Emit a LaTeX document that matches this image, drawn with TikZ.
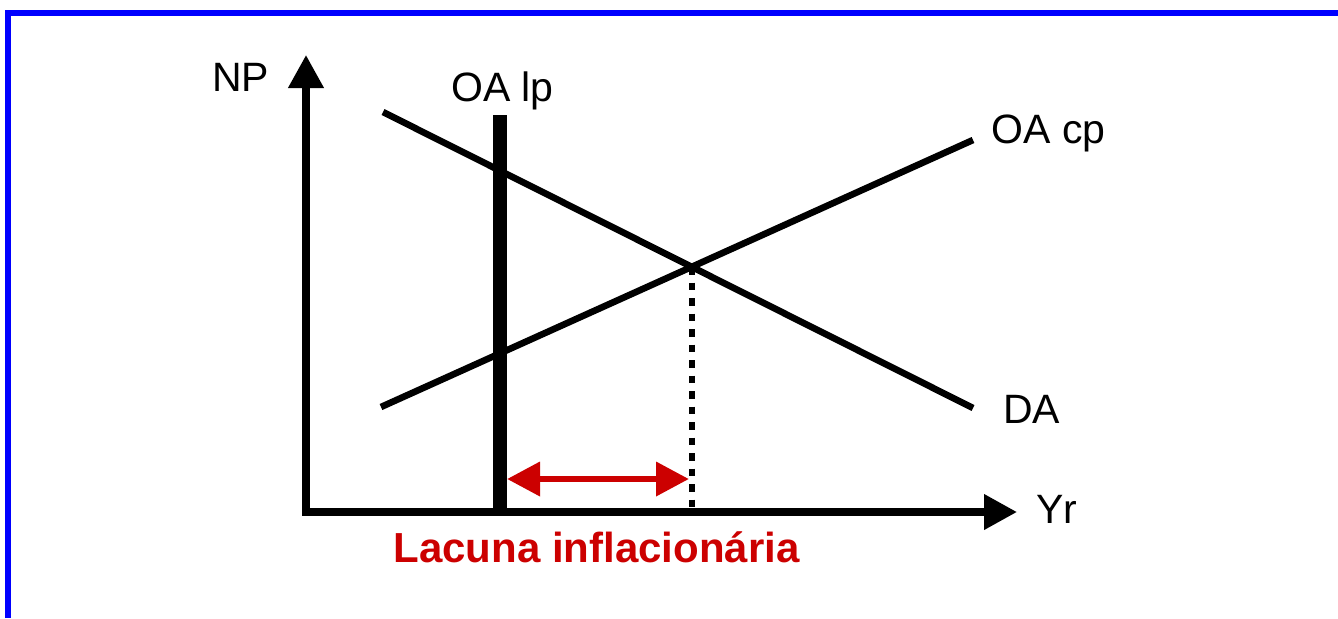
\documentclass[tikz,border=0pt]{standalone}
\usepackage{fontspec}
\setmainfont{Liberation Sans}
\usetikzlibrary{arrows.meta}
\definecolor{bord}{HTML}{0000FF}
\definecolor{lacred}{HTML}{CC0000}
\begin{document}
\begin{tikzpicture}[x=0.5pt,y=-0.5pt,
  lbl/.style={anchor=base,inner sep=0pt,font=\fontsize{20.5}{24}\selectfont},
  curve/.style={line width=3.3pt},
  axis/.style={line width=3.6pt,-{Triangle[length=16.5pt,width=17pt]}},
  gap/.style={lacred,line width=3.4pt,{Triangle[length=16.5pt,width=16.5pt]}-{Triangle[length=16.5pt,width=16.5pt]}}]
\useasboundingbox (0,0) rectangle (1338,618);
\fill[white] (0,0) rectangle (1338,618);
% border
\draw[bord,line width=3pt] (8,618) -- (8,13) -- (1338,13);
% coordinates
\coordinate (corner) at (302,512);
\coordinate (ybot) at (306,515.5);
\coordinate (ytip) at (306,55);
\coordinate (xtip) at (1017,512);
\coordinate (lpT) at (500,115);
\coordinate (lpB) at (500,515);
\coordinate (daS) at (383,112);
\coordinate (daE) at (973,408);
\coordinate (cpS) at (381,407);
\coordinate (cpE) at (973,140);
\coordinate (E) at (692,267);
\coordinate (Eb) at (692,510);
\coordinate (gL) at (507,479);
\coordinate (gR) at (689,479);
% axes
\draw[axis] (ybot) -- (ytip);
\draw[axis] (corner) -- (xtip);
% curves
\draw[curve] (daS) -- (daE);
\draw[curve] (cpS) -- (cpE);
\draw[line width=7.2pt] (lpB) -- (lpT);
\draw[line width=3.2pt,dash pattern=on 3.75pt off 4pt] (E) -- (Eb);
% gap arrow
\draw[gap] (gL) -- (gR);
% labels
\node[lbl] (np) at (240.5,91) {NP};
\node[lbl] (oalp) at (502.5,101.5) {OA lp};
\node[lbl] (oacp) at (1048.5,143) {OA cp};
\node[lbl] (da) at (1031.5,423) {DA};
\node[lbl] (yr) at (1056.5,523) {Yr};
\node[lbl,text=lacred,font=\fontsize{21}{25}\selectfont\bfseries] (lac) at (596.5,562) {Lacuna inflacionária};
\end{tikzpicture}
\end{document}
